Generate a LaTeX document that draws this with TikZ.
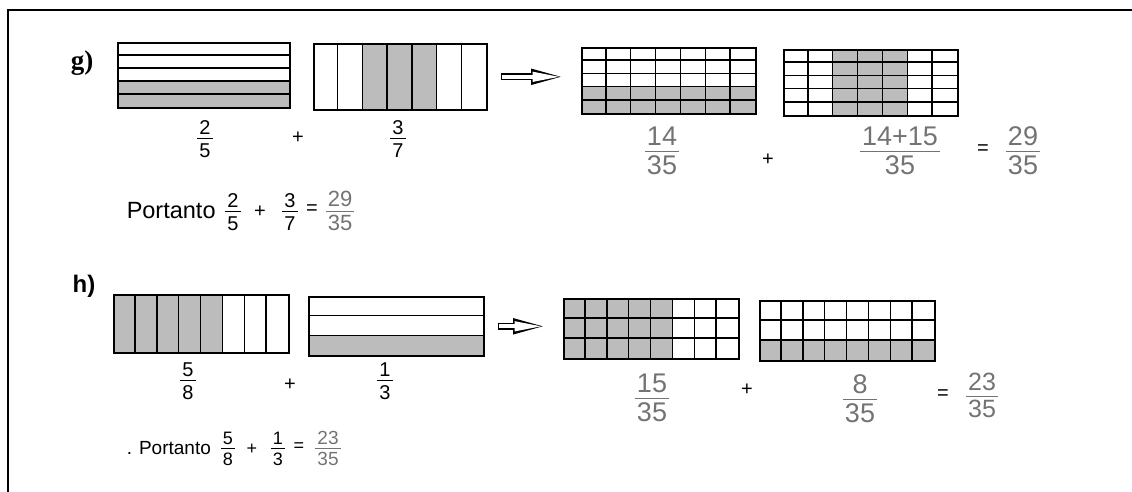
\documentclass[tikz,border=0pt]{standalone}
\usepackage{fontspec}
\setmainfont{Liberation Sans}
\newfontfamily\serifbf{Liberation Serif}
\usepackage{tikz}
\usetikzlibrary{arrows.meta}
\definecolor{shadegray}{RGB}{188,188,188}
\definecolor{pencil}{RGB}{115,115,115}
\setlength{\arrayrulewidth}{1pt}
% stacked fraction: numerator over a rule over denominator
\newcommand{\vfrac}[2]{\begin{tabular}{@{\hspace{2pt}}c@{\hspace{2pt}}}#1\\[-3pt]\hline\noalign{\vskip 2pt}#2\end{tabular}}

\begin{document}
\begin{tikzpicture}[x=1pt, y=-1pt, line width=1.5pt,
  frame/.style={draw, line width=1.6pt, inner sep=0pt, anchor=north west},
  pf/.style={font=\fontsize{20}{23}\selectfont, inner sep=0pt},
  hw/.style={text=pencil, font=\fontsize{27}{29}\selectfont, inner sep=0pt},
  hollow/.style={line width=7pt, -{Triangle[length=34pt,width=14pt]},
    shorten <=13pt, shorten >=16pt,
    postaction={draw=white, line width=4pt, -{Triangle[length=29pt,width=9pt]},
      shorten <=14.5pt, shorten >=19.5pt}}]
  \useasboundingbox (0,0) rectangle (1132,492);
  \draw[line width=2pt] (8,492) -- (8,10) -- (1132,10);

  % g) 2/5 + 3/7
  \node[font=\fontsize{27}{30}\selectfont\serifbf\bfseries] (lg) at (82,63) {g)};
  \fill[shadegray] (117,81) rectangle (289,107);
  \foreach \y in {1,...,4} \draw (117,{42+\y*13}) -- ++(172,0);
  \node[frame, minimum width=172pt, minimum height=65pt] (ga) at (117,42) {};

  \fill[shadegray] ({313+2*173/7},43) rectangle ({313+5*173/7},109);
  \foreach \x in {1,...,6} \draw ({313+\x*173/7},43) -- ++(0,66);
  \node[frame, minimum width=173pt, minimum height=66pt] (gb) at (313,43) {};

  \fill[shadegray] (581,{47+3*66/5}) rectangle (755,113);
  \foreach \x in {1,...,6} \draw ({581+\x*174/7},47) -- ++(0,66);
  \foreach \y in {1,...,4} \draw (581,{47+\y*66/5}) -- ++(174,0);
  \node[frame, minimum width=174pt, minimum height=66pt] (gc) at (581,47) {};

  \fill[shadegray] ({783+2*174/7},49) rectangle ({783+5*174/7},115);
  \foreach \x in {1,...,6} \draw ({783+\x*174/7},49) -- ++(0,66);
  \foreach \y in {1,...,4} \draw (783,{49+\y*66/5}) -- ++(174,0);
  \node[frame, minimum width=174pt, minimum height=66pt] (gd) at (783,49) {};

  \draw[hollow] (gb.east) -- (gb.east -| gc.west);

  \node[pf] (ga-frac) at (205,141) {\vfrac{2}{5}};
  \node[pf] (g-plus1) at (298,138) {+};
  \node[pf] (gb-frac) at (398,141) {\vfrac{3}{7}};
  \node[hw] (gc-frac) at (662,154) {\vfrac{14}{35}};
  \node[pf] (g-plus2) at (768,160) {+};
  \node[hw] (gd-frac) at (900,154) {\vfrac{14+15}{35}};
  \node[pf] (g-eq) at (983,150) {=};
  \node[hw] (g-sum) at (1023,154) {\vfrac{29}{35}};

  \node[font=\fontsize{23.5}{26}\selectfont, anchor=west, inner sep=0pt] (g-port) at (126,211) {Portanto};
  \node[pf] (gp-a) at (233,214) {\vfrac{2}{5}};
  \node[pf] (gp-plus) at (260,212) {+};
  \node[pf] (gp-b) at (290,214) {\vfrac{3}{7}};
  \node[pf] (gp-eq) at (312,210) {=};
  \node[hw, font=\fontsize{22}{24}\selectfont] (gp-sum) at (340,214) {\vfrac{29}{35}};

  % h) 5/8 + 1/3
  \node[font=\fontsize{24}{27}\selectfont\bfseries] (lh) at (84,286) {h)};
  \fill[shadegray] (113,294) rectangle ({113+5*175/8},352);
  \foreach \x in {1,...,7} \draw ({113+\x*175/8},294) -- ++(0,58);
  \node[frame, minimum width=175pt, minimum height=58pt] (ha) at (113,294) {};

  \fill[shadegray] (308,{296+2*59/3}) rectangle (483,355);
  \foreach \y in {1,2} \draw (308,{296+\y*59/3}) -- ++(175,0);
  \node[frame, minimum width=175pt, minimum height=59pt] (hb) at (308,296) {};

  \fill[shadegray] (563,298) rectangle ({563+5*175/8},358);
  \foreach \x in {1,...,7} \draw ({563+\x*175/8},298) -- ++(0,60);
  \foreach \y in {1,2} \draw (563,{298+\y*20}) -- ++(175,0);
  \node[frame, minimum width=175pt, minimum height=60pt] (hc) at (563,298) {};

  \fill[shadegray] (759,340) rectangle (934,360);
  \foreach \x in {1,...,7} \draw ({759+\x*175/8},300) -- ++(0,60);
  \foreach \y in {1,2} \draw (759,{300+\y*20}) -- ++(175,0);
  \node[frame, minimum width=175pt, minimum height=60pt] (hd) at (759,300) {};

  \draw[hollow] (hb.east) -- (hb.east -| hc.west);

  \node[pf] (ha-frac) at (188,383) {\vfrac{5}{8}};
  \node[pf] (h-plus1) at (290,385) {+};
  \node[pf] (hb-frac) at (385,383) {\vfrac{1}{3}};
  \node[hw] (hc-frac) at (652,401) {\vfrac{15}{35}};
  \node[pf] (h-plus2) at (747,390) {+};
  \node[hw] (hd-frac) at (860,402) {\vfrac{8}{35}};
  \node[pf] (h-eq) at (943,395) {=};
  \node[hw, font=\fontsize{25}{27}\selectfont] (h-sum) at (982,399) {\vfrac{23}{35}};

  \node[font=\fontsize{19}{22}\selectfont, anchor=west, inner sep=0pt] (h-port) at (126,448) {. Portanto};
  \node[pf, font=\fontsize{18}{21}\selectfont] (hp-a) at (228,451) {\vfrac{5}{8}};
  \node[pf, font=\fontsize{18}{21}\selectfont] (hp-plus) at (252,449) {+};
  \node[pf, font=\fontsize{18}{21}\selectfont] (hp-b) at (278,451) {\vfrac{1}{3}};
  \node[pf, font=\fontsize{18}{21}\selectfont] (hp-eq) at (299,447) {=};
  \node[hw, font=\fontsize{19}{21}\selectfont] (hp-sum) at (328,451) {\vfrac{23}{35}};
\end{tikzpicture}
\end{document}
